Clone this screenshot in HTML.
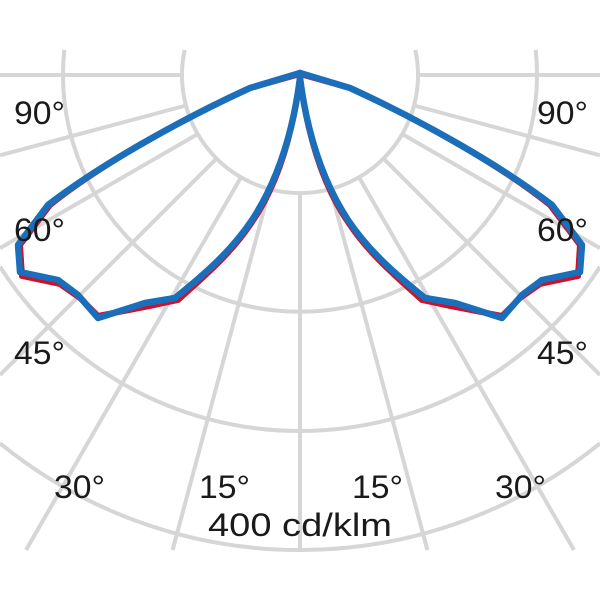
<!DOCTYPE html>
<html><head><style>html,body{margin:0;background:#fff;overflow:hidden;width:600px;height:600px}svg{display:block}</style></head><body>
<svg width="600" height="600" viewBox="0 0 600 600" xmlns="http://www.w3.org/2000/svg">
<g stroke="#d6d6d6" stroke-width="4" fill="none">
<path d="M184.7,50 A118,118 0 1 0 415.3,50"/>
<path d="M64.3,50 A237,237 0 1 0 535.7,50"/>
<path d="M0,266.7 A356,356 0 0 0 600,266.7"/>
<path d="M0,443.3 A475,475 0 0 0 600,443.3"/>
<g id="sp">
<line x1="300" y1="193" x2="300" y2="550"/>
<line x1="269.5" y1="189" x2="172.6" y2="550"/>
<line x1="241" y1="177.2" x2="26" y2="550"/>
<line x1="216.6" y1="158.4" x2="0" y2="375"/>
<line x1="197.8" y1="134" x2="0" y2="248.2"/>
<line x1="186" y1="105.5" x2="0" y2="155.3"/>
<line x1="182" y1="75" x2="0" y2="75"/>
</g>
<use href="#sp" transform="translate(600,0) scale(-1,1)"/>
</g>
<g fill="none" stroke-linejoin="round">
<path id="r" stroke="#d0102a" stroke-width="6" d="M300,78 C292,140 275,190 250,225 C230,255 200,280 178,300 L150,306 L98,316 L80,298 L60,284 L22,276 L20,245 L50,205 C100,165 180,120 250,88 L300,74 Z"/>
<use href="#r" transform="translate(600,0) scale(-1,1)"/>
<path id="b" stroke="#1b6fba" stroke-width="6.5" d="M300,78 C292,140 275,185 252,220 C230,253 200,278 175,298 L145,303 L98,318 L78,295 L58,280 L20,272 L18,245 L48,205 C100,165 180,120 250,88 L300,73 Z"/>
<use href="#b" transform="translate(600,0) scale(-1,1)"/>
</g>
<g font-family="Liberation Sans, sans-serif" font-size="32" fill="#1a1a1a">
<text x="14" y="124" textLength="51" lengthAdjust="spacingAndGlyphs">90°</text>
<text x="14" y="241" textLength="51" lengthAdjust="spacingAndGlyphs">60°</text>
<text x="14" y="364" textLength="51" lengthAdjust="spacingAndGlyphs">45°</text>
<text x="54" y="498" textLength="51" lengthAdjust="spacingAndGlyphs">30°</text>
<text x="199" y="498" textLength="51" lengthAdjust="spacingAndGlyphs">15°</text>
<text x="352" y="498" textLength="51" lengthAdjust="spacingAndGlyphs">15°</text>
<text x="495" y="498" textLength="51" lengthAdjust="spacingAndGlyphs">30°</text>
<text x="537" y="364" textLength="51" lengthAdjust="spacingAndGlyphs">45°</text>
<text x="537" y="241" textLength="51" lengthAdjust="spacingAndGlyphs">60°</text>
<text x="537" y="124" textLength="51" lengthAdjust="spacingAndGlyphs">90°</text>
<text x="208" y="536" textLength="184" lengthAdjust="spacingAndGlyphs">400 cd/klm</text>
</g>
</svg>
</body></html>
